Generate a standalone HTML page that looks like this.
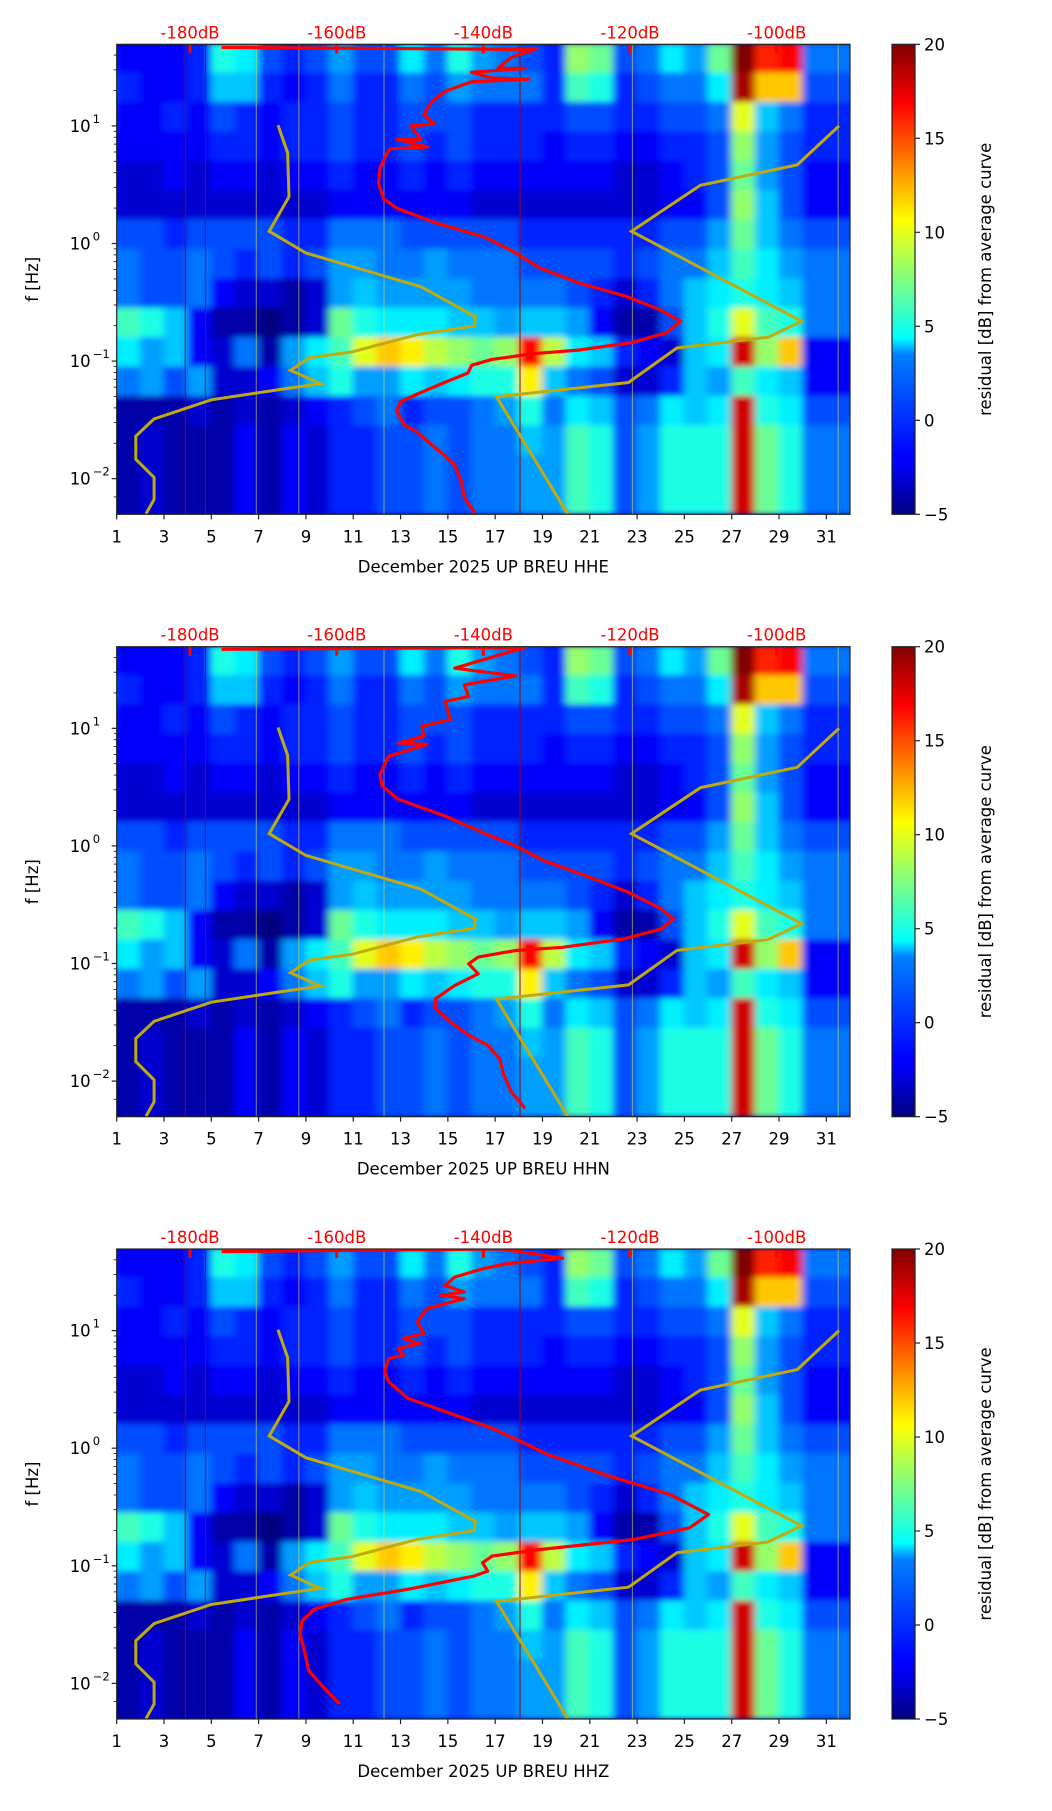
<!DOCTYPE html>
<html><head><meta charset="utf-8">
<style>
html,body{margin:0;padding:0;background:#fff;}
svg text{font-family:"DejaVu Sans","Liberation Sans",sans-serif;}
</style></head>
<body>
<svg id="fig" width="1052" height="1806" viewBox="0 0 1052 1806" xmlns="http://www.w3.org/2000/svg">
<defs>
<filter id="blur" x="-5%" y="-5%" width="110%" height="110%"><feGaussianBlur stdDeviation="4 3"/></filter>
<linearGradient id="jetgrad" x1="0" y1="1" x2="0" y2="0">
<stop offset="0" stop-color="#000080"/><stop offset="0.11" stop-color="#0000ff"/><stop offset="0.125" stop-color="#0000ff"/>
<stop offset="0.34" stop-color="#0080ff"/><stop offset="0.375" stop-color="#00ffff" stop-opacity="1"/>
<stop offset="0.5" stop-color="#80ff80"/><stop offset="0.625" stop-color="#ffff00"/>
<stop offset="0.875" stop-color="#ff0000"/><stop offset="1" stop-color="#800000"/>
</linearGradient>
</defs>
</svg>
<script>
// ---- data ----
const panelNames = ["HHE","HHN","HHZ"];
const dayTicks = [1,3,5,7,9,11,13,15,17,19,21,23,25,27,29,31];
const dbTicks = [-180,-160,-140,-120,-100];
const cbTicks = [-5,0,5,10,15,20];
const yDecades = [-2,-1,0,1];
// heatmap rows: 16 bands of 0.25 log10(f) from log 1.7 downward; column i covers day i..i+1
const heatRows = [
[-1,-2,-2,-2,-1,5,4,0,-1,0,2,0,0,4,1,5,2,1,0,-1,8,7,0,1,4,2,7,20,16,17,1],
[0,-1,-2,-2,-1,3,3,-1,-2,-1,1,-1,-1,1,0,2,1,1,1,-1,6,5,-1,0,1,1,4,19,12,12,0],
[-1,-2,-2,-1,-2,0,-1,-2,-1,-1,0,-1,-1,0,0,0,-1,-1,-1,-1,0,0,-1,-1,0,0,1,10,3,1,-1],
[-2,-2,-2,-2,-2,-1,-1,-2,-1,-1,0,-1,-1,0,-1,0,-1,-1,-1,-2,-1,-1,-2,-2,-1,-1,0,8,2,0,-1],
[-2,-3,-3,-2,-3,-2,-2,-3,-2,-2,-1,-2,-2,-1,-2,-1,-2,-2,-2,-2,-2,-2,-3,-3,-2,-1,0,7,2,0,-2],
[-2,-3,-3,-3,-3,-3,-3,-3,-3,-3,-2,-2,-2,-2,-2,-2,-3,-3,-3,-3,-3,-3,-3,-3,-2,-2,0,8,3,0,-2],
[0,0,0,-1,0,0,0,0,-1,-1,1,1,1,0,0,0,0,0,-1,-1,-1,-1,-1,-1,0,0,2,7,3,1,0],
[1,1,0,0,1,0,-1,0,-1,0,2,2,1,1,2,1,1,1,0,0,0,0,-1,0,1,1,3,6,4,2,1],
[1,1,0,0,1,-2,-3,-3,-4,-3,2,3,2,2,2,2,1,1,1,1,0,-1,-3,-1,1,3,4,5,4,3,1],
[5,6,5,3,-2,-4,-4,-5,-4,-3,7,5,4,4,4,3,3,2,3,3,2,-2,-4,-4,0,3,5,10,6,5,1],
[3,4,2,3,-2,-3,1,-4,2,4,6,10,12,11,9,8,7,8,17,9,4,3,-1,-2,-3,3,4,18,8,12,-2],
[2,1,2,0,2,-3,-3,-2,1,3,5,2,2,4,3,4,5,5,11,3,1,0,-3,-3,-1,3,2,6,4,3,-2],
[-4,-4,-4,-4,-3,-4,-3,-4,-3,-2,-1,0,1,-1,0,0,1,2,5,1,4,3,0,1,4,3,4,18,5,4,0],
[-4,-4,-3,-4,-4,-4,-2,-4,-2,-3,-1,-1,0,0,1,0,1,1,3,2,6,5,0,2,5,5,5,18,7,5,1],
[-4,-4,-3,-4,-4,-4,-2,-4,-2,-3,-1,-1,0,0,1,0,1,1,2,2,6,5,0,2,5,5,5,18,7,5,1],
[-4,-4,-3,-4,-4,-4,-2,-4,-2,-3,-1,-1,0,0,1,0,1,1,2,2,6,5,0,2,5,5,5,18,7,5,1]
];
// Peterson noise models (dB, log10 f)
const nlnmDb = [-168.0,-166.7,-166.5,-169.2,-164.2,-148.5,-141.1,-141.2,-149.0,-157.9,-163.7,-166.3,-162.2,-167.4,-177.1,-184.9,-187.4,-187.4,-184.9,-184.9,-186.0];
const nlnmLf = [1.007,0.772,0.397,0.104,-0.081,-0.368,-0.622,-0.700,-0.775,-0.922,-0.971,-1.078,-1.192,-1.238,-1.329,-1.492,-1.638,-1.834,-1.990,-2.176,-2.30];
const nhnmDb = [-91.5,-97.2,-110.4,-119.8,-96.6,-101.2,-113.6,-120.2,-138.2,-128.5];
const nhnmLf = [1.0,0.668,0.495,0.104,-0.661,-0.798,-0.889,-1.182,-1.303,-2.30];
// average curves per channel
const avgDbE = [-175.7,-132.9,-136.1,-138.0,-134.3,-141.6,-138.9,-133.8,-141.6,-145.3,-147.2,-148.1,-146.7,-149.9,-148.5,-151.8,-147.6,-152.7,-153.1,-154.1,-154.3,-153.6,-151.8,-146.2,-139.8,-135.7,-132.4,-126.9,-120.5,-115.9,-113.1,-115.0,-119.6,-126.9,-133.4,-138.9,-141.6,-142.1,-145.3,-149.0,-151.3,-151.8,-150.8,-149.0,-147.2,-145.3,-143.9,-143.0,-142.6,-141.2];
const avgLfE = [1.668,1.651,1.586,1.489,1.489,1.456,1.407,1.397,1.375,1.293,1.195,1.098,1.016,1.0,0.886,0.886,0.821,0.805,0.772,0.642,0.511,0.381,0.300,0.169,0.055,-0.075,-0.205,-0.336,-0.450,-0.564,-0.661,-0.759,-0.840,-0.906,-0.938,-0.987,-1.036,-1.101,-1.182,-1.280,-1.345,-1.427,-1.541,-1.606,-1.704,-1.801,-1.883,-2.029,-2.160,-2.290];
const avgDbN = [-175.7,-134.3,-143.9,-135.6,-142.6,-142.0,-145.2,-144.5,-148.4,-148.1,-151.6,-147.7,-152.9,-154.1,-153.8,-151.6,-145.2,-140.1,-135.6,-131.7,-126.0,-120.2,-115.7,-114.1,-115.7,-120.9,-129.2,-135.6,-140.7,-142.0,-140.7,-143.9,-146.5,-146.5,-144.5,-142.0,-139.4,-137.8,-137.2,-136.2,-134.3];
const avgLfN = [1.672,1.689,1.511,1.446,1.370,1.271,1.229,1.074,1.017,0.932,0.876,0.862,0.763,0.607,0.509,0.396,0.254,0.113,0.0,-0.127,-0.254,-0.395,-0.537,-0.621,-0.706,-0.791,-0.862,-0.890,-0.946,-1.003,-1.088,-1.186,-1.299,-1.384,-1.497,-1.610,-1.695,-1.808,-1.949,-2.090,-2.232];
const avgDbZ = [-175.7,-137.5,-129.2,-136.9,-140.1,-143.9,-145.2,-142.6,-145.8,-142.6,-147.7,-149.0,-148.1,-150.9,-148.7,-151.6,-150.9,-152.9,-153.5,-152.9,-150.3,-143.9,-138.8,-134.9,-131.1,-123.4,-114.5,-109.3,-111.9,-119.6,-132.4,-138.8,-140.1,-139.4,-141.3,-150.3,-158.6,-163.1,-164.7,-165.0,-164.4,-163.8,-161.8,-159.6];
const avgLfZ = [1.672,1.695,1.616,1.568,1.526,1.455,1.384,1.328,1.300,1.271,1.187,1.074,0.975,0.932,0.890,0.848,0.791,0.763,0.650,0.565,0.424,0.283,0.170,0.057,-0.056,-0.226,-0.395,-0.565,-0.678,-0.777,-0.862,-0.918,-0.975,-1.045,-1.088,-1.200,-1.285,-1.370,-1.469,-1.582,-1.723,-1.893,-2.034,-2.175];
const streakDays = [3.9,4.75,18.05];
const brightStreakDays = [6.9,8.7,12.3,22.8,31.5];

// ---- layout ----
const NS="http://www.w3.org/2000/svg";
const svg=document.getElementById('fig');
const X0=116.7, X1=850, H=470, tops=[44.3,646.7,1249];
const DMIN=1, DMAX=32, LTOP=1.694, LBOT=-2.303, DBMIN=-190, DBMAX=-90;
const xDay=d=>X0+(d-DMIN)/(DMAX-DMIN)*(X1-X0);
const xDb=v=>X0+(v-DBMIN)/(DBMAX-DBMIN)*(X1-X0);
function mk(tag,attrs,parent){const e=document.createElementNS(NS,tag);for(const k in attrs)e.setAttribute(k,attrs[k]);(parent||svg).appendChild(e);return e;}
function jet(v){const t=Math.max(0,Math.min(1,(v+5)/25));const c=x=>Math.round(255*Math.max(0,Math.min(1,1.5-Math.abs(4*t-x))));return `rgb(${c(3)},${c(2)},${c(1)})`;}

const avgDb=[avgDbE,avgDbN,avgDbZ], avgLf=[avgLfE,avgLfN,avgLfZ];

tops.forEach((top,p)=>{
  const yL=l=>top+(LTOP-l)/(LTOP-LBOT)*H;
  const g=mk('g',{});
  
  
  const cp=mk('clipPath',{id:'clip'+p},g);
  mk('rect',{x:X0,y:top,width:X1-X0,height:H},cp);
  const plot=mk('g',{'clip-path':`url(#clip${p})`},g);
  mk('rect',{x:X0,y:top,width:X1-X0,height:H,fill:'#0000c0'},plot);
  const hm=mk('g',{filter:'url(#blur)'},plot);
  
  
  heatRows.forEach((row,r)=>{
    const lHi=1.7-0.25*r, lLo=lHi-0.25;
    row.forEach((v,d)=>{
      const x=xDay(d), y=yL(lHi);
      const w=(d===row.length-1)?(X1-x+12):(xDay(d+1)-x+1);
      const cell=mk('rect',{x:x-0.5,y:y-0.5,width:w,height:yL(lLo)-y+1,fill:jet(v)},hm);
      
      
    });
  });
  brightStreakDays.forEach(d=>{
    const s=mk('line',{x1:xDay(d),x2:xDay(d),y1:top,y2:top+H,stroke:'#e0e040','stroke-width':1,opacity:0.6},plot);
    
    
  });
  streakDays.forEach(d=>{
    const s=mk('line',{x1:xDay(d),x2:xDay(d),y1:top,y2:top+H,stroke:'#a00000','stroke-width':1},plot);
    
    
  });
  const pts=(xs,ls)=>xs.map((v,i)=>xDb(v).toFixed(1)+','+yL(ls[i]).toFixed(1)).join(' ');
  const lo=mk('polyline',{points:pts(nlnmDb,nlnmLf),fill:'none',stroke:'#c0aa10','stroke-width':3},plot);
  
  
  const hi=mk('polyline',{points:pts(nhnmDb,nhnmLf),fill:'none',stroke:'#c0aa10','stroke-width':3},plot);
  
  
  const av=mk('polyline',{points:pts(avgDb[p],avgLf[p]),fill:'none',stroke:'#ff0000','stroke-width':3.2,'stroke-linejoin':'round'},plot);
  
  
  dbTicks.forEach(v=>{
    const t=mk('rect',{x:xDb(v)-1.5,y:top,width:3,height:9,fill:'#ff0000'},g);
    
    
    const lb=mk('text',{x:xDb(v),y:top-6,'text-anchor':'middle','font-size':16.5,fill:'#ff0000'},g);
    lb.textContent=v+'dB';
    
    
  });
  mk('rect',{x:X0,y:top,width:X1-X0,height:H,fill:'none',stroke:'#222','stroke-width':1.2},g);
  dayTicks.forEach(d=>{
    mk('line',{x1:xDay(d),x2:xDay(d),y1:top+H,y2:top+H+5,stroke:'#222','stroke-width':1.2},g);
    const t=mk('text',{x:xDay(d),y:top+H+28,'text-anchor':'middle','font-size':16.5,fill:'#000'},g);
    t.textContent=d;
    
    
  });
  const xl=mk('text',{x:(X0+X1)/2,y:top+H+58,'text-anchor':'middle','font-size':16.5,fill:'#000'},g);
  xl.textContent='December 2025 UP BREU  '+panelNames[p];
  
  
  yDecades.forEach(k=>{
    const y=yL(k);
    mk('line',{x1:X0-5,x2:X0,y1:y,y2:y,stroke:'#222','stroke-width':1.2},g);
    const t=mk('text',{x:X0-26,y:y+6,'text-anchor':'end','font-size':16.5,fill:'#000'},g);
    t.textContent='10';
    
    
    const e=mk('text',{x:X0-24,y:y-3,'text-anchor':'start','font-size':11.5,fill:'#000'},g);
    e.textContent=(k<0?'\u2212':'')+Math.abs(k);
    for(let m=2;m<=9;m++){const lm=k+Math.log10(m);if(lm<LTOP&&lm>LBOT){const ym=yL(lm);mk('line',{x1:X0-3,x2:X0,y1:ym,y2:ym,stroke:'#222','stroke-width':0.9},g);}}
  });
  [-2.155].forEach(lm=>{const ym=yL(lm);mk('line',{x1:X0-3,x2:X0,y1:ym,y2:ym,stroke:'#222','stroke-width':0.9},g);});
  const yt=mk('text',{x:0,y:0,'text-anchor':'middle','font-size':16.5,fill:'#000',transform:`translate(38,${top+H/2}) rotate(-90)`},g);
  yt.textContent='f [Hz]';
  
  
  const cb=mk('g',{},g);
  
  
  mk('rect',{x:892,y:top,width:23,height:H,fill:'url(#jetgrad)',stroke:'#222','stroke-width':1.2},cb);
  cbTicks.forEach(v=>{
    const y=top+H-(v+5)/25*H;
    mk('line',{x1:915,x2:920,y1:y,y2:y,stroke:'#222','stroke-width':1.2},cb);
    const t=mk('text',{x:924,y:y+6,'font-size':16.5,fill:'#000'},cb);
    t.textContent=(v<0?'\u2212':'')+Math.abs(v);
    
    
  });
  const cl=mk('text',{x:0,y:0,'text-anchor':'middle','font-size':16.5,fill:'#000',transform:`translate(991,${top+H/2}) rotate(-90)`},cb);
  cl.textContent='residual [dB] from average curve';
  
  
});
</script>
</body></html>
